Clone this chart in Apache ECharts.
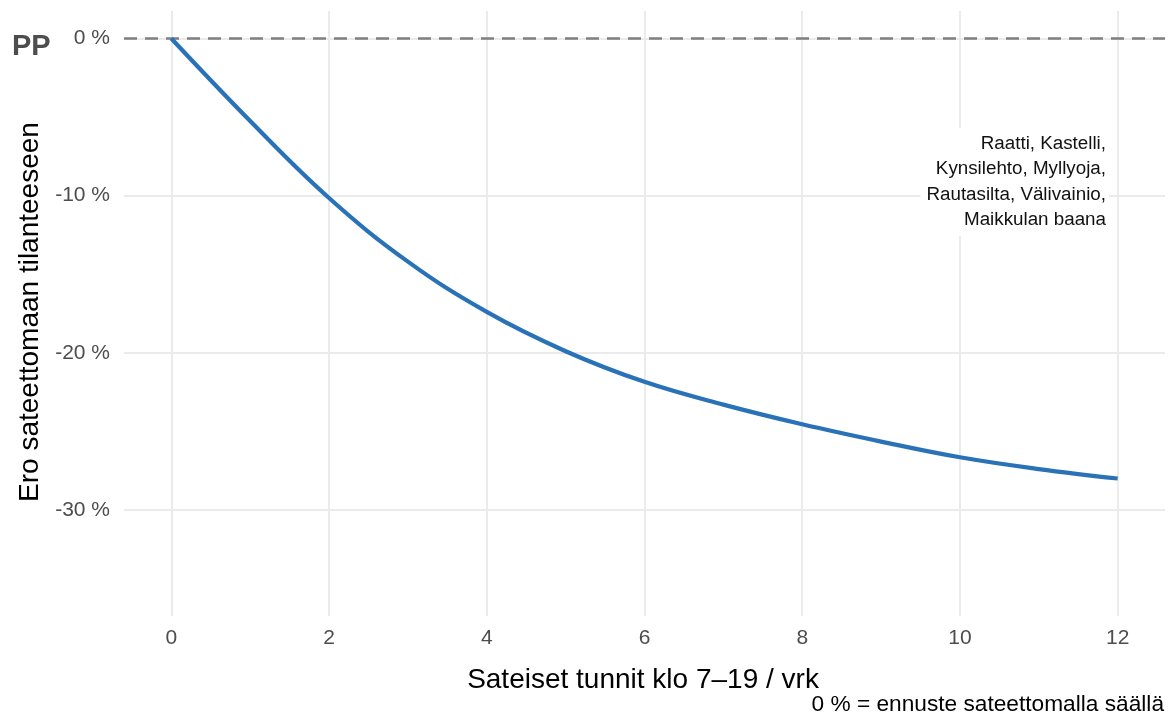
<!DOCTYPE html>
<html>
<head>
<meta charset="utf-8">
<script src="https://cdn.jsdelivr.net/npm/echarts@6/dist/echarts.min.js"></script>
<style>
html,body{margin:0;padding:0;background:#fff;}
#chart{width:1170px;height:716px;}
</style>
</head>
<body>
<div id="chart"></div>
<script>
// ---- data ----
var hours = [0, 1, 2, 3, 4, 5, 6, 7, 8, 9, 10, 11, 12];
var diffPct = [0, -5.25, -10.15, -14.2, -17.4, -19.9, -21.85, -23.3, -24.55, -25.65, -26.65, -27.4, -28.0];
var xTicks = [0, 2, 4, 6, 8, 10, 12];
var yTicks = [0, -10, -20, -30];
var xTitle = 'Sateiset tunnit klo 7–19 / vrk';
var yTitle = 'Ero sateettomaan tilanteeseen';
var caption = '0 % = ennuste sateettomalla säällä';
var panelTag = 'PP';
var stationNote = 'Raatti, Kastelli,\nKynsilehto, Myllyoja,\nRautasilta, Välivainio,\nMaikkulan baana';

var FONT = "'Liberation Sans', Arial, sans-serif";
var chart = echarts.init(document.getElementById('chart'), null, {renderer: 'canvas'});

var lineData = hours.map(function (h, i) { return [h, diffPct[i]]; });
var gridLines = xTicks.map(function (v) { return {xAxis: v}; })
  .concat(yTicks.map(function (v) { return {yAxis: v}; }));

chart.setOption({
  animation: false,
  backgroundColor: '#ffffff',
  grid: {left: 124, right: 5, top: 11, bottom: 100, containLabel: false},
  xAxis: {
    type: 'value', min: -0.6, max: 12.6,
    axisLine: {show: false}, axisTick: {show: false, customValues: xTicks},
    splitLine: {show: false},
    axisLabel: {customValues: xTicks, color: '#4d4d4d', fontSize: 21, fontFamily: FONT, margin: 12}
  },
  yAxis: {
    type: 'value', min: -36.75, max: 1.75,
    axisLine: {show: false}, axisTick: {show: false, customValues: yTicks},
    splitLine: {show: false},
    axisLabel: {customValues: yTicks, color: '#4d4d4d', fontSize: 21, fontFamily: FONT, margin: 14,
      formatter: function (v) { return Math.round(v) + ' %'; }}
  },
  series: [
    {
      type: 'line', data: [], silent: true, z: 1,
      markLine: {
        silent: true, symbol: ['none', 'none'], label: {show: false},
        lineStyle: {color: '#ebebeb', width: 2, type: 'solid'},
        data: gridLines, animation: false
      }
    },
    {
      type: 'line', data: [], silent: true, z: 2,
      markLine: {
        silent: true, symbol: ['none', 'none'], label: {show: false},
        lineStyle: {color: '#7f7f7f', width: 2.5, type: [13, 8]},
        data: [{yAxis: 0}], animation: false
      }
    },
    {
      type: 'line', data: lineData, smooth: 0.4, showSymbol: false, z: 5,
      lineStyle: {color: '#2a72b8', width: 4.2, cap: 'butt'}
    }
  ],
  graphic: [
    {type: 'text', left: 12, top: 32, z: 10,
      style: {text: panelTag, fill: '#4d4d4d', font: 'bold 29px ' + FONT}},
    {type: 'text', x: 30, y: 312, rotation: Math.PI / 2, z: 10,
      style: {text: yTitle, fill: '#000', font: '28px ' + FONT, align: 'center', verticalAlign: 'middle'}},
    {type: 'text', x: 643, y: 680, z: 10,
      style: {text: xTitle, fill: '#000', font: '28px ' + FONT, align: 'center', verticalAlign: 'middle'}},
    {type: 'text', x: 1164, y: 705, z: 10,
      style: {text: caption, fill: '#000', font: '22.7px ' + FONT, align: 'right', verticalAlign: 'middle'}},
    {type: 'text', x: 1109, y: 128, z: 10,
      style: {text: stationNote, fill: '#111', font: '18.8px ' + FONT, align: 'right', verticalAlign: 'top',
        lineHeight: 25.5, backgroundColor: '#ffffff', padding: [3, 3, 3, 6]}}
  ]
});
</script>
</body>
</html>
